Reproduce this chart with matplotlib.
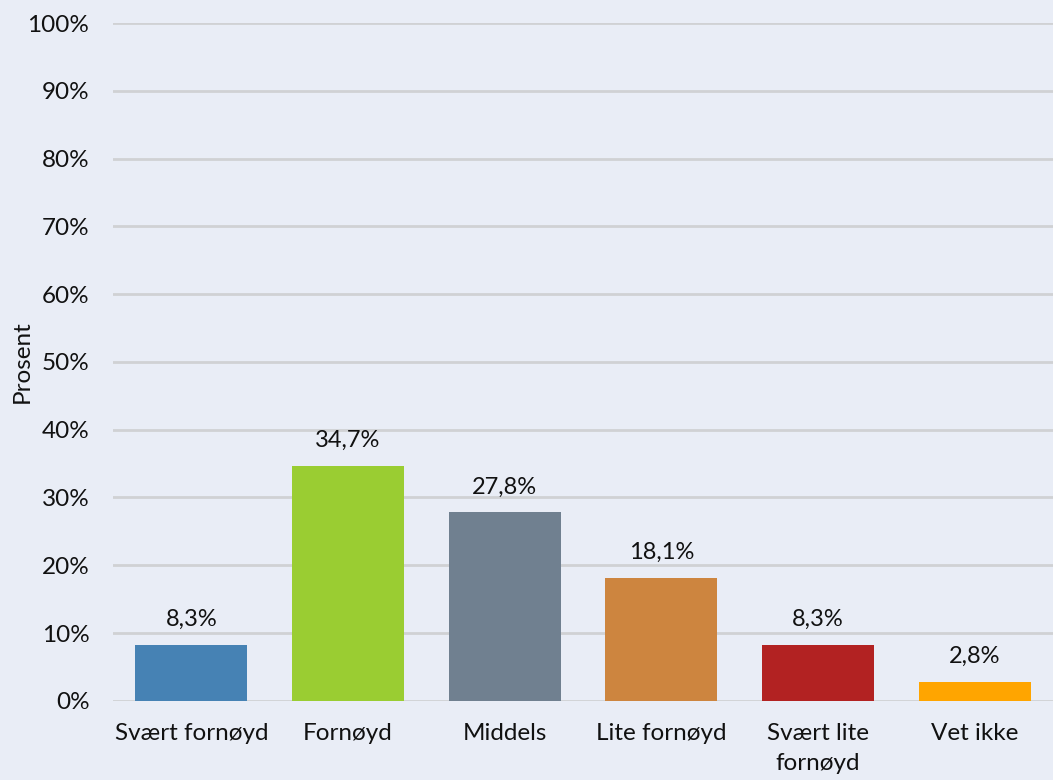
import matplotlib
matplotlib.use("Agg")
import matplotlib.pyplot as plt
from matplotlib.ticker import FuncFormatter, MultipleLocator

categories = ["Svært fornøyd", "Fornøyd", "Middels", "Lite fornøyd", "Svært lite\nfornøyd", "Vet ikke"]
values = [8.3, 34.7, 27.8, 18.1, 8.3, 2.8]
colors = ["#4682B4", "#9ACD32", "#708090", "#CD853F", "#B22222", "#FFA500"]

bg = "#E9EDF6"
plt.rcParams['font.family'] = ['Lato', 'DejaVu Sans']

fig = plt.figure(figsize=(10.53, 7.8), dpi=100, facecolor=bg)
ax = fig.add_axes([0.1073, 0.1015, 0.8927, 0.869])
ax.set_facecolor(bg)

x = list(range(len(categories)))
ax.bar(x, values, width=0.715, color=colors, zorder=3)
for xi, v in zip(x, values):
    ax.text(xi, v + 2.2, f"{v:.1f}%".replace(".", ","), ha="center", va="bottom",
            fontsize=17, color="#111111", zorder=4)

ax.set_xlim(-0.5, len(categories) - 0.5)
ax.set_ylim(0, 100)
ax.yaxis.set_major_locator(MultipleLocator(10))
ax.yaxis.set_major_formatter(FuncFormatter(lambda v, p: f"{int(round(v))}%"))
ax.set_xticks(x)
ax.set_xticklabels(categories, fontsize=17.5, color="#111111", linespacing=1.55)
ax.tick_params(axis="y", labelsize=17.5, colors="#111111", length=0, pad=17)
ax.tick_params(axis="x", length=0, pad=16)
ax.grid(axis="y", color="#D0D1D4", linewidth=2, zorder=0)
for s in ax.spines.values():
    s.set_visible(False)
ax.set_ylabel("Prosent", fontsize=17.5, color="#111111")
ax.yaxis.set_label_coords(-0.085, 0.5)

fig.savefig("out.png", dpi=100, facecolor=bg)
